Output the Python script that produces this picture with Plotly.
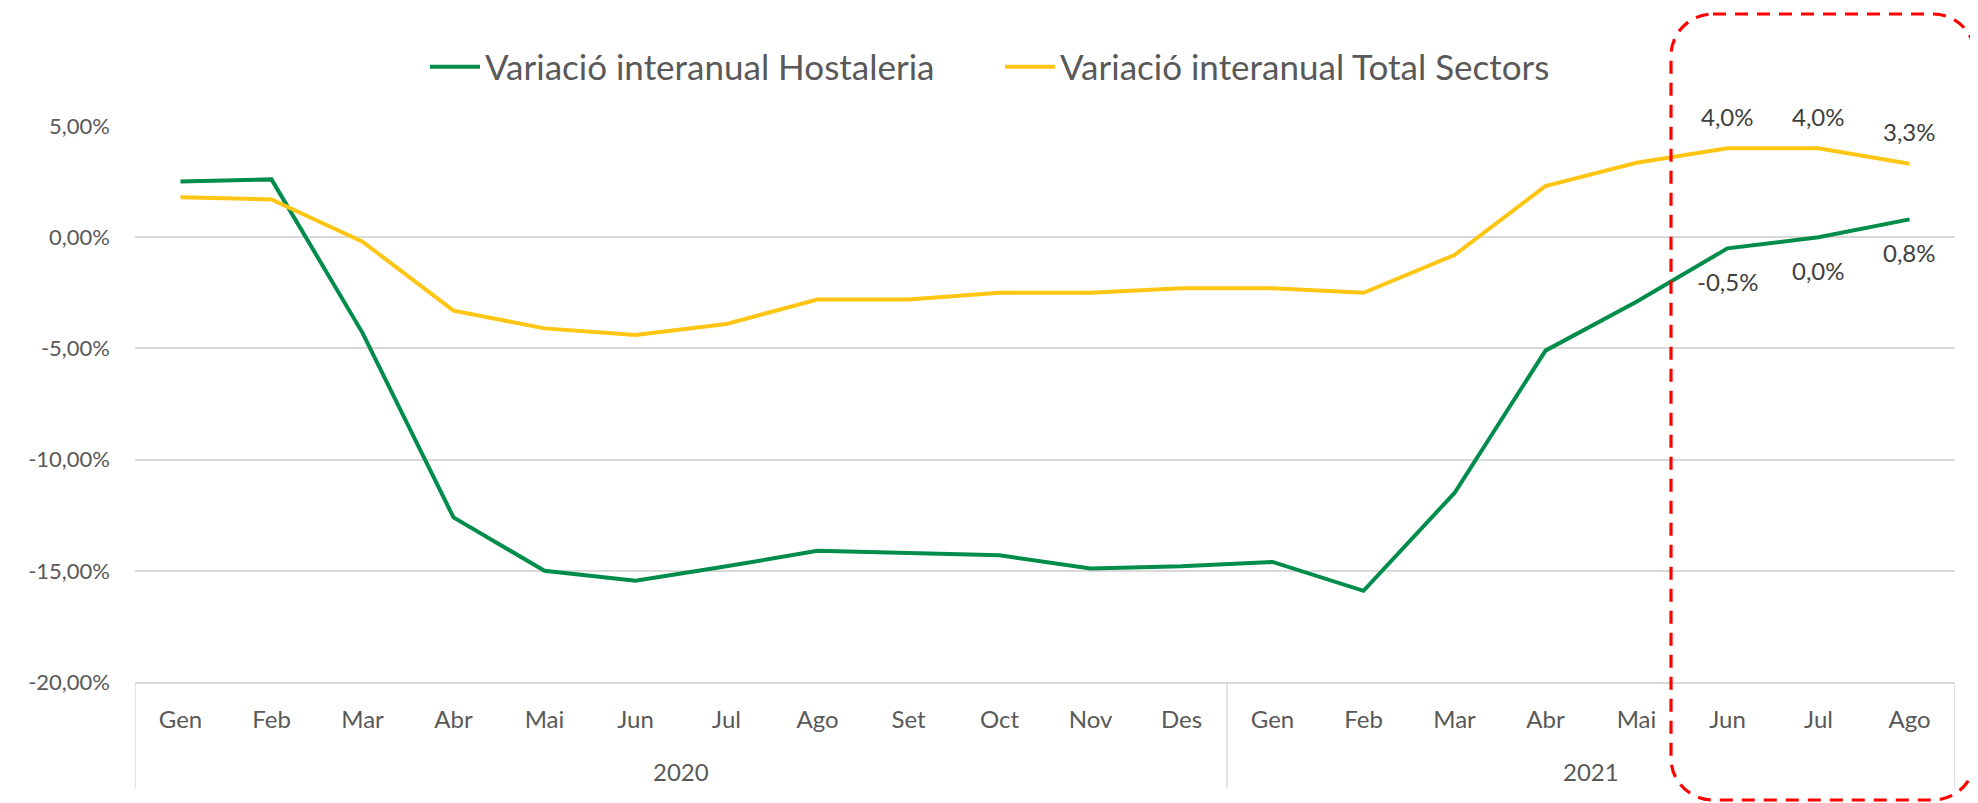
import plotly.graph_objects as go

months = ["Gen", "Feb", "Mar", "Abr", "Mai", "Jun", "Jul", "Ago", "Set", "Oct", "Nov", "Des",
          "Gen", "Feb", "Mar", "Abr", "Mai", "Jun", "Jul", "Ago"]
years = ["2020", "2021"]
year_counts = [12, 8]

hostaleria = [2.5, 2.6, -4.3, -12.6, -15.0, -15.45, -14.8, -14.1, -14.2, -14.3, -14.9, -14.8,
              -14.6, -15.9, -11.5, -5.1, -2.9, -0.5, 0.0, 0.8]
total_sectors = [1.8, 1.7, -0.2, -3.3, -4.1, -4.4, -3.9, -2.8, -2.8, -2.5, -2.5, -2.3,
                 -2.3, -2.5, -0.8, 2.3, 3.35, 4.0, 4.0, 3.3]

series_names = ["Variació interanual Hostaleria", "Variació interanual Total Sectors"]
labelled_idx = [17, 18, 19]

y_tickvals = [5, 0, -5, -10, -15, -20]
y_ticktext = ["5,00%", "0,00%", "-5,00%", "-10,00%", "-15,00%", "-20,00%"]

GREEN = "#008C4B"
YELLOW = "#FFC513"
TXT = "#595959"
LBL = "#404040"
GRID = "#D9D9D9"
FONT = "Lato"

OFF = 8  # default page body margin
W, H = 1978 - OFF, 803 - OFF
L = 135 - OFF
T = 126 - OFF
R = W - (1955 - OFF)
B = H - (682 - OFF)
PW, PH = W - L - R, H - T - B

def px2paper(px, py):
    # page pixel coordinates -> paper coordinates
    return (px - OFF - L) / PW, (H - B - (py - OFF)) / PH

x = list(range(len(months)))

fig = go.Figure()
fig.add_trace(go.Scatter(x=x, y=hostaleria, mode="lines", name=series_names[0],
                         line=dict(color=GREEN, width=4)))
fig.add_trace(go.Scatter(x=x, y=total_sectors, mode="lines", name=series_names[1],
                         line=dict(color=YELLOW, width=4)))

annotations = []
for i in labelled_idx:
    annotations.append(dict(x=i, y=total_sectors[i], xref="x", yref="y",
                            text=f"{total_sectors[i]:.1f}%".replace(".", ","),
                            showarrow=False, yshift=32,
                            font=dict(family=FONT, size=24, color=LBL)))
    annotations.append(dict(x=i, y=hostaleria[i], xref="x", yref="y",
                            text=f"{hostaleria[i]:.1f}%".replace(".", ","),
                            showarrow=False, yshift=-33,
                            font=dict(family=FONT, size=24, color=LBL)))

# year group labels and dividers
shapes = []
start = 0
_, ydiv = px2paper(0, 788)
_, yyear = px2paper(0, 771)
bounds = [-0.5]
for yr, n in zip(years, year_counts):
    mid = start + (n - 1) / 2
    annotations.append(dict(x=mid, y=yyear, xref="x", yref="paper", text=yr, showarrow=False,
                            yanchor="middle", font=dict(family=FONT, size=24, color=TXT)))
    start += n
    bounds.append(start - 0.5)
for b in bounds:
    shapes.append(dict(type="line", xref="x", yref="paper", x0=b, x1=b, y0=0, y1=ydiv,
                       line=dict(color=GRID, width=1.5), layer="below"))

# rounded dashed highlight box (page pixel geometry -> paper)
bx0, bx1, by0, by1, rad = 1671, 1975, 14, 800, 42
k = 0.5523 * rad
pts = [
    ("M", [(bx0 + rad, by0)]),
    ("L", [(bx1 - rad, by0)]),
    ("C", [(bx1 - rad + k, by0), (bx1, by0 + rad - k), (bx1, by0 + rad)]),
    ("L", [(bx1, by1 - rad)]),
    ("C", [(bx1, by1 - rad + k), (bx1 - rad + k, by1), (bx1 - rad, by1)]),
    ("L", [(bx0 + rad, by1)]),
    ("C", [(bx0 + rad - k, by1), (bx0, by1 - rad + k), (bx0, by1 - rad)]),
    ("L", [(bx0, by0 + rad)]),
    ("C", [(bx0, by0 + rad - k), (bx0 + rad - k, by0), (bx0 + rad, by0)]),
]
path = ""
for cmd, ps in pts:
    path += cmd + " " + " ".join(f"{px2paper(a, b)[0]:.5f},{px2paper(a, b)[1]:.5f}" for a, b in ps) + " "
path += "Z"
shapes.append(dict(type="path", xref="paper", yref="paper", path=path,
                   line=dict(color="#FF0000", width=3.2, dash="13px,9px"),
                   fillcolor="rgba(0,0,0,0)", layer="above"))

lx, ly = px2paper(425, 67)

fig.update_layout(
    width=W, height=H, autosize=False,
    margin=dict(l=L, r=R, t=T, b=B, pad=0),
    paper_bgcolor="white", plot_bgcolor="white",
    font=dict(family=FONT, color=TXT),
    showlegend=True,
    legend=dict(orientation="h", x=lx, xanchor="left", y=ly, yanchor="middle",
                font=dict(family=FONT, size=35, color=TXT),
                entrywidth=510, entrywidthmode="pixels", itemwidth=50,
                bgcolor="rgba(0,0,0,0)"),
    xaxis=dict(range=[-0.5, len(months) - 0.5], tickvals=x, ticktext=months,
               showgrid=False, zeroline=False, showline=True, linecolor=GRID, linewidth=1.5,
               ticks="", tickfont=dict(family=FONT, size=24, color=TXT), ticklabelstandoff=15,
               fixedrange=True),
    yaxis=dict(range=[-20, 5], tickvals=y_tickvals, ticktext=y_ticktext,
               showgrid=True, gridcolor=GRID, gridwidth=1.5, zeroline=False, showline=False,
               ticks="", tickfont=dict(family=FONT, size=22, color=TXT), ticklabelstandoff=24,
               fixedrange=True),
    annotations=annotations,
    shapes=shapes,
)

fig.write_html("out.html")
